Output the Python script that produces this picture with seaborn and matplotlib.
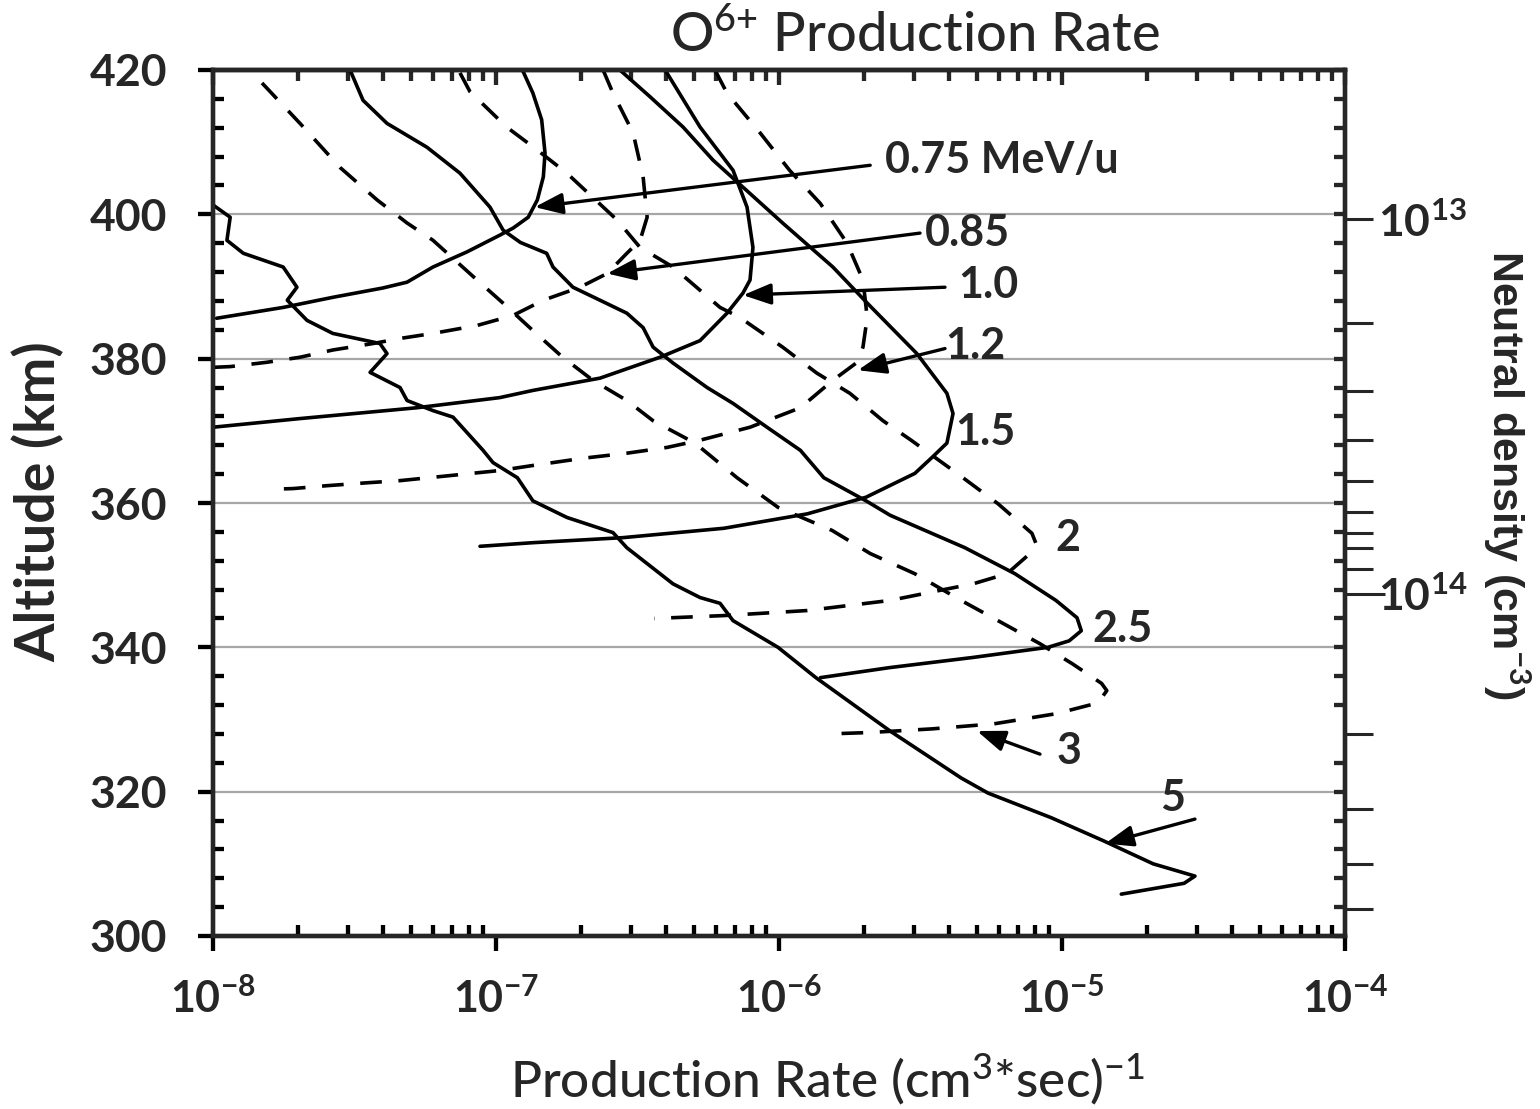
import numpy as np
import pandas as pd
import matplotlib
matplotlib.use("Agg")
import matplotlib.pyplot as plt
import matplotlib.ticker as mticker
import seaborn as sns

# ---------------------------------------------------------------------------
# O6+ production rate (cm^3*sec)^-1 versus altitude (km) for each energy (MeV/u)
# ---------------------------------------------------------------------------
rate_075 = [1.24e-7, 1.35e-7, 1.45e-7, 1.49e-7, 1.47e-7, 1.40e-7, 1.30e-7, 1.15e-7,
            1.03e-7, 7.90e-8, 5.99e-8, 4.85e-8, 3.99e-8, 2.65e-8, 1.77e-8, 1.03e-8]
alt_075 = [420.0, 416.8, 413.1, 408.5, 405.2, 402.0, 399.6, 398.1,
           397.1, 394.8, 392.7, 390.6, 389.8, 388.5, 387.1, 385.6]

rate_085 = [2.39e-7, 2.59e-7, 3.05e-7, 3.31e-7, 3.42e-7, 3.23e-7, 2.90e-7, 2.47e-7,
            1.98e-7, 1.47e-7, 1.15e-7, 8.57e-8, 5.99e-8, 4.58e-8, 3.68e-8, 2.65e-8,
            2.03e-8, 1.55e-8, 1.15e-8, 1.00e-8]
alt_085 = [420.0, 416.8, 411.3, 405.2, 399.6, 396.4, 394.6, 391.8,
           389.9, 388.1, 386.0, 384.6, 383.5, 382.8, 382.1, 381.2,
           380.2, 379.5, 378.9, 378.8]

rate_10 = [3.96e-7, 5.26e-7, 6.88e-7, 7.71e-7, 8.09e-7, 7.90e-7, 7.46e-7, 6.55e-7,
           5.26e-7, 3.80e-7, 2.33e-7, 1.35e-7, 1.03e-7, 5.26e-8, 2.03e-8, 1.00e-8]
alt_10 = [420.0, 412.1, 406.1, 401.0, 395.4, 390.9, 389.1, 386.3,
          382.5, 380.2, 377.3, 375.6, 374.6, 373.2, 371.7, 370.5]

rate_12 = [5.94e-7, 6.55e-7, 8.57e-7, 1.09e-6, 1.40e-6, 1.74e-6, 1.98e-6, 2.05e-6,
           1.98e-6, 1.89e-6, 1.55e-6, 1.19e-6, 7.90e-7, 5.26e-7, 4.02e-7, 2.90e-7,
           2.03e-7, 1.35e-7, 1.03e-7, 6.88e-8, 4.58e-8, 3.50e-8, 2.53e-8, 1.92e-8, 1.59e-8]
alt_12 = [420.0, 416.8, 411.3, 406.1, 401.5, 396.0, 390.9, 385.7,
          381.6, 379.5, 377.0, 373.2, 370.5, 368.7, 367.7, 366.9,
          366.2, 365.2, 364.5, 363.8, 363.1, 362.8, 362.4, 362.0, 361.9]

rate_15 = [2.74e-7, 3.50e-7, 4.58e-7, 5.85e-7, 1.03e-6, 1.55e-6, 2.05e-6, 3.07e-6,
           3.92e-6, 4.12e-6, 3.92e-6, 3.47e-6, 3.02e-6, 2.03e-6, 1.26e-6, 6.39e-7,
           2.81e-7, 1.35e-7, 8.78e-8]
alt_15 = [420.0, 416.3, 412.1, 407.5, 398.8, 392.7, 387.7, 380.7,
          375.2, 372.4, 368.3, 366.3, 364.1, 360.8, 358.5, 356.5,
          355.2, 354.5, 354.0]

rate_20 = [7.46e-8, 8.09e-8, 1.09e-7, 1.40e-7, 1.78e-7, 2.68e-7, 3.23e-7, 4.22e-7,
           6.19e-7, 7.28e-7, 1.03e-6, 1.36e-6, 1.78e-6, 2.33e-6, 2.93e-6, 4.26e-6,
           5.94e-6, 7.83e-6, 8.09e-6, 7.71e-6, 6.39e-6, 4.85e-6, 3.71e-6, 2.47e-6,
           1.26e-6, 6.39e-7, 3.62e-7]
alt_20 = [419.6, 417.0, 412.1, 408.9, 405.7, 399.2, 395.4, 392.7,
          387.1, 385.7, 381.6, 378.0, 375.2, 371.4, 368.7, 364.1,
          359.9, 355.8, 354.4, 353.0, 350.2, 348.8, 347.9, 346.5,
          345.1, 344.4, 344.0]

rate_25 = [3.05e-8, 3.39e-8, 4.12e-8, 5.70e-8, 7.46e-8, 9.52e-8, 1.06e-7, 1.22e-7,
           1.51e-7, 1.59e-7, 1.87e-7, 2.33e-7, 2.90e-7, 3.31e-7, 3.59e-7, 4.22e-7,
           5.57e-7, 6.88e-7, 9.07e-7, 1.19e-6, 1.44e-6, 2.03e-6, 2.47e-6, 4.54e-6,
           6.82e-6, 9.52e-6, 1.13e-5, 1.17e-5, 1.06e-5, 8.92e-6, 4.85e-6, 2.47e-6, 1.40e-6]
alt_25 = [420.0, 415.8, 412.6, 409.3, 405.7, 401.0, 397.8, 396.1,
          394.6, 392.7, 389.9, 388.1, 386.3, 384.3, 381.6, 379.4,
          376.0, 373.8, 370.5, 367.3, 363.5, 360.3, 358.3, 353.8,
          350.2, 346.5, 344.1, 342.3, 340.9, 340.0, 338.6, 337.2, 335.8]

rate_30 = [1.49e-8, 2.03e-8, 2.81e-8, 3.80e-8, 4.85e-8, 5.99e-8, 8.57e-8, 1.08e-7,
           1.35e-7, 1.72e-7, 2.20e-7, 2.90e-7, 3.59e-7, 5.05e-7, 7.11e-7, 9.92e-7,
           1.54e-6, 2.10e-6, 3.02e-6, 4.40e-6, 5.94e-6, 8.36e-6, 1.09e-5, 1.38e-5,
           1.44e-5, 1.34e-5, 9.52e-6, 5.75e-6, 3.47e-6, 2.10e-6, 1.49e-6]
alt_30 = [418.2, 412.6, 406.5, 402.0, 398.8, 396.4, 390.9, 387.4,
          383.9, 380.2, 377.0, 374.2, 371.4, 368.3, 363.5, 359.4,
          356.2, 353.0, 350.2, 346.5, 343.7, 340.5, 337.7, 335.0,
          334.0, 332.3, 330.8, 329.4, 328.7, 328.2, 328.0]

rate_50 = [1.00e-8, 1.15e-8, 1.12e-8, 1.28e-8, 1.77e-8, 1.98e-8, 1.83e-8, 2.15e-8,
           2.65e-8, 3.89e-8, 4.12e-8, 3.59e-8, 4.58e-8, 4.85e-8, 5.99e-8, 7.05e-8,
           9.00e-8, 9.76e-8, 1.19e-7, 1.35e-7, 1.78e-7, 2.59e-7, 2.90e-7, 4.22e-7,
           5.26e-7, 6.19e-7, 6.88e-7, 9.92e-7, 1.35e-6, 2.47e-6, 4.40e-6, 5.48e-6,
           9.15e-6, 1.40e-5, 2.10e-5, 2.95e-5, 2.70e-5, 1.62e-5]
alt_50 = [401.3, 399.6, 396.4, 394.6, 392.7, 389.9, 388.1, 385.3,
          383.5, 382.1, 380.7, 378.1, 376.0, 374.2, 372.8, 371.9,
          367.3, 365.6, 363.5, 360.3, 358.0, 355.9, 353.8, 348.8,
          346.9, 346.1, 343.7, 340.0, 335.8, 328.4, 321.9, 319.8,
          316.4, 313.2, 310.0, 308.3, 307.3, 305.8]

energies = ["0.75", "0.85", "1.0", "1.2", "1.5", "2", "2.5", "3", "5"]
rates = [rate_075, rate_085, rate_10, rate_12, rate_15, rate_20, rate_25, rate_30, rate_50]
alts = [alt_075, alt_085, alt_10, alt_12, alt_15, alt_20, alt_25, alt_30, alt_50]
dashed = [False, True, False, True, False, True, False, True, False]

# neutral density scale on the right: density values and the altitudes they sit at
density_values = [1e13, 2e13, 3e13, 4e13, 5e13, 6e13, 7e13, 8e13, 9e13,
                  1e14, 2e14, 3e14, 4e14, 5e14]
density_alts = [399.3, 385.0, 375.5, 368.7, 363.0, 358.8, 355.9, 353.7, 350.8,
                347.4, 328.0, 317.6, 310.0, 303.7]

# curve labels: text, anchor (rate, altitude), optional arrow (tail, head)
label_texts = ["0.75 MeV/u", "0.85", "1.0", "1.2", "1.5", "2", "2.5", "3", "5"]
label_rate = [2.37e-6, 3.28e-6, 4.29e-6, 3.86e-6, 4.19e-6, 9.45e-6, 1.28e-5, 9.60e-6, 2.22e-5]
label_alt = [407.5, 397.4, 390.2, 381.8, 369.8, 355.1, 342.6, 325.7, 319.1]
arrows = [
    ((2.10e-6, 406.8), (1.37e-7, 401.0)),
    ((3.15e-6, 397.4), (2.47e-7, 391.8)),
    ((3.86e-6, 389.9), (7.46e-7, 388.8)),
    ((3.86e-6, 381.4), (1.90e-6, 378.4)),
    ((8.36e-6, 325.2), (5.01e-6, 328.4)),
    ((2.95e-5, 316.2), (1.42e-5, 312.8)),
]

# ---------------------------------------------------------------------------
sns.set_style("ticks")
plt.rcParams["font.family"] = ["Lato", "DejaVu Sans"]
plt.rcParams["mathtext.fontset"] = "custom"
plt.rcParams["mathtext.rm"] = "Lato"
plt.rcParams["mathtext.bf"] = "Lato:bold"
plt.rcParams["mathtext.it"] = "Lato:italic"
plt.rcParams["mathtext.default"] = "regular"

W, H = 1540, 1109
fig = plt.figure(figsize=(W / 100, H / 100), dpi=100)
x0, x1, y0, y1 = 213, 1345, 70, 936
ax = fig.add_axes([x0 / W, 1 - y1 / H, (x1 - x0) / W, (y1 - y0) / H])

LW = 2.6
for rate, alt, is_dashed in zip(rates, alts, dashed):
    df = pd.DataFrame({"rate": rate, "altitude": alt})
    ls = (0, (6.0, 4.6)) if is_dashed else "-"
    sns.lineplot(data=df, x="rate", y="altitude", sort=False, estimator=None,
                 color="black", lw=LW, linestyle=ls, ax=ax, zorder=3)

ax.set_xscale("log")
ax.set_xlim(1e-8, 1e-4)
ax.set_ylim(300, 420)
ax.set_axisbelow(True)
ax.grid(False)
ax.yaxis.grid(True, which="major", color="#a6a6a6", lw=1.6)

spine_w = 3.1
for s in ax.spines.values():
    s.set_linewidth(spine_w)
    s.set_color("black")
    s.set_visible(True)

ax.xaxis.set_major_locator(mticker.LogLocator(base=10, numticks=10))
ax.xaxis.set_minor_locator(mticker.LogLocator(base=10, subs=np.arange(2, 10), numticks=100))
ax.xaxis.set_major_formatter(mticker.FuncFormatter(
    lambda v, p: r"$\mathbf{10^{%d}}$" % int(round(np.log10(v)))))
ax.xaxis.set_minor_formatter(mticker.NullFormatter())
ax.yaxis.set_major_locator(mticker.MultipleLocator(20))
ax.yaxis.set_minor_locator(mticker.MultipleLocator(4))

ax.tick_params(axis="both", which="major", direction="out", length=11, width=spine_w,
               top=False, right=False, color="black")
ax.tick_params(axis="both", which="minor", direction="in", length=8, width=spine_w,
               top=False, right=False, color="black")
ax.tick_params(axis="x", which="major", labelsize=31, pad=19)
ax.tick_params(axis="y", which="major", labelsize=32, pad=22)
for t in ax.get_yticklabels():
    t.set_fontweight("bold")

# inward ticks along the top edge
top = ax.secondary_xaxis("top")
top.xaxis.set_major_locator(mticker.LogLocator(base=10, numticks=10))
top.xaxis.set_minor_locator(mticker.LogLocator(base=10, subs=np.arange(2, 10), numticks=100))
top.xaxis.set_major_formatter(mticker.NullFormatter())
top.xaxis.set_minor_formatter(mticker.NullFormatter())
top.tick_params(which="major", direction="in", length=11, width=spine_w)
top.tick_params(which="minor", direction="in", length=8, width=spine_w)
top.spines["top"].set_linewidth(spine_w)

# neutral density axis on the right
ax2 = ax.twinx()
ax2.set_ylim(300, 420)
ax2.grid(False)
ax2.yaxis.set_major_locator(mticker.FixedLocator(density_alts))
dens_labels = [r"$\mathbf{10^{%d}}$" % int(round(np.log10(v)))
               if abs(np.log10(v) - round(np.log10(v))) < 1e-9 else "" for v in density_values]
ax2.yaxis.set_major_formatter(mticker.FixedFormatter(dens_labels))
ax2.yaxis.set_minor_locator(mticker.MultipleLocator(4))
ax2.tick_params(which="major", direction="out", length=20, width=2.2, labelsize=32, pad=4)
ax2.tick_params(which="minor", direction="in", length=8, width=spine_w)
for s in ax2.spines.values():
    s.set_linewidth(spine_w)
for tk, v in zip(ax2.yaxis.get_major_ticks(), density_values):
    if v == 1e14:
        tk.tick2line.set_markersize(29)

# axis titles
ax.set_ylabel("Altitude (km)", fontsize=40, fontweight="bold", rotation=90,
              ha="center", va="center")
ax.yaxis.set_label_coords((38 - x0) / (x1 - x0), (y1 - 502) / (y1 - y0))
ax.set_xlabel(r"Production Rate (cm$^{3}$*sec)$^{-1}$", fontsize=37, fontweight="medium",
              ha="center", va="center")
ax.xaxis.set_label_coords((828 - x0) / (x1 - x0), (y1 - 1080) / (y1 - y0))
ax2.set_ylabel(r"Neutral density (cm$^{\mathbf{-3}}$)", fontsize=31, fontweight="bold",
               family=["Liberation Sans", "DejaVu Sans"], rotation=270,
               ha="center", va="center")
ax2.yaxis.set_label_coords((1507 - x0) / (x1 - x0), (y1 - 475) / (y1 - y0))

fig.text(915 / W, 1 - 35 / H, r"O$^{6{+}}$ Production Rate", fontsize=39,
         fontweight="medium", ha="center", va="center")

# curve labels and pointers
for txt, r, a in zip(label_texts, label_rate, label_alt):
    ax.text(r, a, txt, fontsize=31, fontweight="bold", ha="left", va="center", zorder=5)
for (tail, head) in arrows:
    ax.annotate("", xy=head, xytext=tail, zorder=5,
                arrowprops=dict(arrowstyle="-|>,head_length=0.85,head_width=0.32",
                                mutation_scale=20, color="black", lw=2.4,
                                shrinkA=0, shrinkB=0))

fig.savefig("out.png", dpi=100)
